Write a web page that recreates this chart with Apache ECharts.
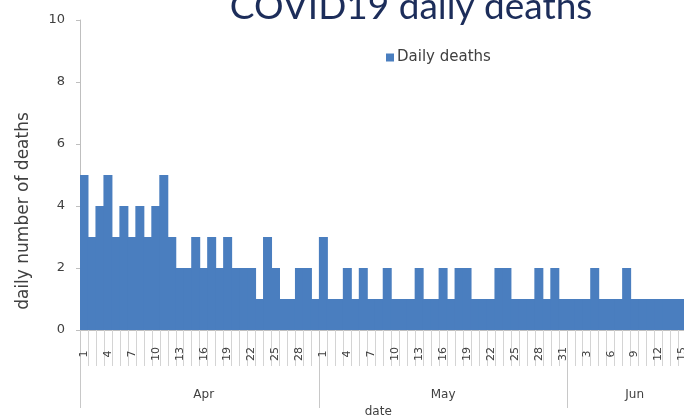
<!DOCTYPE html>
<html>
<head>
<meta charset="utf-8">
<script src="https://cdn.jsdelivr.net/npm/echarts@6/dist/echarts.min.js"></script>
<style>
html, body { margin: 0; padding: 0; background: #fff; }
#content { width: 684px; height: 419px; }
</style>
</head>
<body>
<div id="content"></div>
<script>
// daily deaths, one value per day from 1 Apr
var aprDeaths = [5, 3, 4, 5, 3, 4, 3, 4, 3, 4, 5, 3, 2, 2, 3, 2, 3, 2, 3, 2, 2, 2, 1, 3, 2, 1, 1, 2, 2, 1];
var mayDeaths = [3, 1, 1, 2, 1, 2, 1, 1, 2, 1, 1, 1, 2, 1, 1, 2, 1, 2, 2, 1, 1, 1, 2, 2, 1, 1, 1, 2, 1, 2, 1];
var junDeaths = [1, 1, 1, 2, 1, 1, 1, 2, 1, 1, 1, 1, 1, 1, 1, 1];
var months = ['Apr', 'May', 'Jun'];
var yTicks = [0, 2, 4, 6, 8, 10];

!(function(window) {
    var element = document.getElementById('content');
    var myChart = echarts.init(element);

    var blocks = [aprDeaths, mayDeaths, junDeaths];
    var days = [];
    var data = [];
    var monthStart = [];
    var monthMid = {};
    blocks.forEach(function(arr, m) {
        monthStart.push(days.length);
        monthMid[days.length + Math.floor(arr.length / 2)] = months[m];
        for (var i = 0; i < arr.length; i++) {
            days.push(String(i + 1));
            data.push(arr[i]);
        }
    });
    monthStart.push(days.length);

    var font = 'DejaVu Sans';
    var option = {
        animation: false,
        title: {
            text: 'COVID19 daily deaths',
            left: 406,
            top: -16,
            textAlign: 'center',
            textStyle: { fontFamily: 'Lato', fontSize: 37, fontWeight: 'normal', color: '#1c2d5a' }
        },
        legend: {
            left: 381,
            top: 45,
            icon: 'rect',
            itemWidth: 8,
            itemHeight: 8,
            itemGap: 4,
            textStyle: { fontFamily: font, fontSize: 15, color: '#404040', padding: [0, 0, 0, -2] },
            data: ['Daily deaths']
        },
        grid: {
            left: 80,
            top: 20,
            height: 310,
            width: days.length * 7.98,
            outerBoundsMode: 'none'
        },
        xAxis: [{
            type: 'category',
            data: days,
            axisLine: { lineStyle: { color: '#bfbfbf' } },
            axisTick: { show: true, interval: 0, length: 36, lineStyle: { color: '#d4d4d4' } },
            axisLabel: { interval: 2, rotate: 90, margin: 24, align: 'center', fontFamily: font, fontSize: 11, color: '#404040' }
        }, {
            type: 'category',
            data: days,
            position: 'bottom',
            axisLine: { show: false },
            axisTick: {
                show: true,
                length: 78,
                interval: function(index) { return monthStart.indexOf(index) >= 0; },
                lineStyle: { color: '#c8c8c8' }
            },
            axisLabel: {
                margin: 59,
                interval: function(index) { return monthMid[index] !== undefined; },
                formatter: function(value, index) { return monthMid[index] || ''; },
                fontFamily: font, fontSize: 12, color: '#404040'
            },
            name: 'date',
            nameLocation: 'middle',
            nameGap: 73,
            nameTextStyle: { fontFamily: font, fontSize: 12, color: '#404040', padding: [0, 18, 0, 0] }
        }],
        yAxis: {
            type: 'value',
            min: yTicks[0],
            max: yTicks[yTicks.length - 1],
            interval: 2,
            splitLine: { show: false },
            axisLine: { show: true, lineStyle: { color: '#bfbfbf' } },
            axisTick: { show: true, length: 4, lineStyle: { color: '#bfbfbf' } },
            axisLabel: { margin: 15, fontFamily: font, fontSize: 13, color: '#404040' },
            name: 'daily number of deaths',
            nameLocation: 'middle',
            nameGap: 48,
            nameTextStyle: { fontFamily: font, fontSize: 17, color: '#404040', padding: [0, 72, 0, 0] }
        },
        series: [{
            name: 'Daily deaths',
            type: 'bar',
            barWidth: 9,
            itemStyle: { color: '#4a7ebf' },
            data: data
        }]
    };
    myChart.setOption(option);
})(window);
</script>
</body>
</html>
